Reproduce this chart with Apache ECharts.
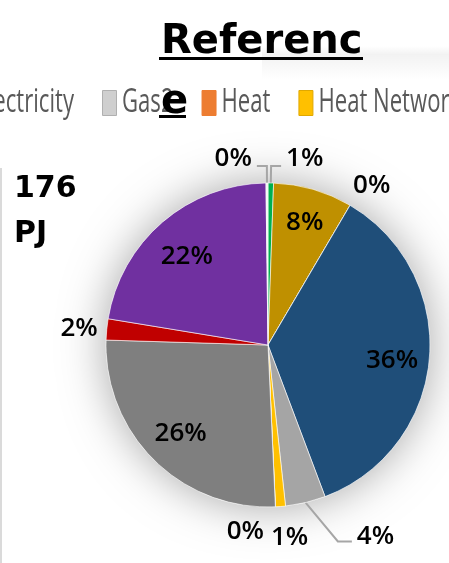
<!DOCTYPE html>
<html><head><meta charset="utf-8">
<script src="https://cdn.jsdelivr.net/npm/echarts@6/dist/echarts.min.js"></script>
<style>html,body{margin:0;padding:0;background:#fff}#c{width:449px;height:563px}</style>
</head><body><div id="c"></div>
<script>
// ---- data ----
const titleText = 'Reference';
const totalText = '176\nPJ';
const categories = ['Biomass', 'Oil', 'Heat', 'Electricity', 'Gas2', 'Heat Network', 'Hydrogen', 'Natural Gas', 'Coal', 'Renewables', 'Other'];
const shares = [0.55, 7.9, 0, 35.8, 4.0, 1.0, 0, 26.2, 2.1, 22.2, 0.2];
const sliceColors = ['#00B050', '#BF9000', '#ED7D31', '#1F4E79', '#A5A5A5', '#FFC000', '#5B9BD5', '#7F7F7F', '#C00000', '#7030A0', '#F4F4F4'];
const legendNames = ['Electricity', 'Gas2', 'Heat', 'Heat Network'];
const legendColors = ['#1F4E79', '#CFCFCF', '#ED7D31', '#FFC000'];
const legendBorders = ['#1F4E79', '#B0B0B0', '#ED7D31', '#E0A800'];

// ---- styling (not data) ----
const CX = 268, CY = 345, R = 162;
const leaderLines = { 'Biomass': [17, 10, 14], 'Other': [17, 10, 14], 'Gas2': [40, 37, 10] }; // length, length2, lift lineHeight
const labelOffsets = { 'Heat': [-5, -15], 'Coal': [2, 0], 'Heat Network': [-15, 25], 'Hydrogen': [-54, 19] };
const insideOffsets = { 'Electricity': [0, 5], 'Renewables': [0, 6], 'Oil': [2, -3] };
const leaderBend = { 'Gas2': 23 };
const labelFont = { fontFamily: 'Open Sans', fontSize: 26, fontWeight: 600, color: '#000' };
const pctText = p => Math.round(p.percent) + '%';

// ---- legend drawn as graphic (condensed text) ----
const LEG = { font: 'Open Sans', size: 33, sx: 0.67, iconW: 15, iconH: 26, top: 90, gap: 28, textGap: 5, endFirst: 74 };
const mctx = document.createElement('canvas').getContext('2d');
mctx.font = LEG.size + 'px "' + LEG.font + '"';
const legendEls = [];
(function () {
  let x = LEG.endFirst - mctx.measureText(legendNames[0]).width * LEG.sx - LEG.textGap - LEG.iconW;
  legendNames.forEach((n, i) => {
    legendEls.push({ type: 'rect', shape: { x: x + 0.5, y: LEG.top + 0.5, width: LEG.iconW - 1, height: LEG.iconH - 1 },
      style: { fill: legendColors[i], stroke: legendBorders[i], lineWidth: 1 }, z: 4 });
    const tx = x + LEG.iconW + LEG.textGap;
    legendEls.push({ type: 'text', x: tx, y: LEG.top + LEG.iconH / 2, scaleX: LEG.sx, z: 4,
      style: { text: n, fontFamily: LEG.font, fontSize: LEG.size, fill: '#595959', align: 'left', verticalAlign: 'middle' } });
    x = tx + mctx.measureText(n).width * LEG.sx + LEG.gap;
  });
})();

function shiftLabel(offsets) {
  return function (p) {
    const off = offsets[categories[p.dataIndex]];
    if (!off) return {};
    const r = p.labelRect;
    return { x: r.x + r.width / 2 + off[0], y: r.y + r.height / 2 + off[1], align: 'center', verticalAlign: 'middle' };
  };
}

const chart = echarts.init(document.getElementById('c'), null, { renderer: 'canvas' });

const mainData = categories.map((n, i) => {
  const ll = leaderLines[n];
  return {
    name: n, value: shares[i],
    itemStyle: { color: sliceColors[i] },
    label: ll ? { show: shares[i] < 5, lineHeight: ll[2], formatter: p => pctText(p) + '\n ' } : { show: shares[i] < 5 },
    labelLine: ll ? { show: true, length: ll[0], length2: ll[1] } : { show: false, length: 6, length2: 0 }
  };
});
const ringData = categories.map((n, i) => ({ name: n, value: shares[i], label: { show: shares[i] >= 5 } }));
const outsideShift = shiftLabel(labelOffsets);

chart.setOption({
  backgroundColor: '#fff',
  animation: false,
  title: [
    { text: titleText, left: 161, top: 13, padding: 0, z: 10,
      textStyle: { fontFamily: 'DejaVu Sans', fontWeight: 'bold', fontSize: 40, color: '#000', width: 210, overflow: 'breakAll', lineHeight: 60 } },
    { text: totalText, left: 14, top: 167, padding: 0,
      textStyle: { fontFamily: 'DejaVu Sans', fontWeight: 'bold', fontSize: 30, color: '#000', lineHeight: 45 } }
  ],
  graphic: legendEls.concat([
    { type: 'rect', shape: { x: 159, y: 57, width: 204, height: 3 }, style: { fill: '#000' }, z: 100 },
    { type: 'rect', shape: { x: 159, y: 115, width: 27, height: 3 }, style: { fill: '#000' }, z: 100 },
    { type: 'rect', shape: { x: 0, y: 168, width: 2, height: 395 }, style: { fill: '#DADADA' }, z: 1 },
    { type: 'rect', shape: { x: 262, y: 46, width: 187, height: 34 }, z: 0, silent: true,
      style: { fill: new echarts.graphic.LinearGradient(0, 0, 0, 1, [
        { offset: 0, color: 'rgba(0,0,0,0.00)' }, { offset: 0.25, color: 'rgba(0,0,0,0.05)' }, { offset: 1, color: 'rgba(0,0,0,0)' }]) } }
  ]),
  series: [
    { type: 'pie', name: 'shadow', center: [CX, CY], radius: R, silent: true, z: 1,
      label: { show: false }, labelLine: { show: false },
      itemStyle: { color: '#fff', shadowBlur: 45, shadowColor: 'rgba(0,0,0,0.35)' },
      data: [{ value: 1, name: '' }] },
    { type: 'pie', name: 'main', center: [CX, CY], radius: R, startAngle: 90, clockwise: true, z: 2,
      avoidLabelOverlap: false, minAngle: 0, minShowLabelAngle: 0, percentPrecision: 2, silent: true,
      itemStyle: { borderColor: '#fff', borderWidth: 0.6 },
      label: Object.assign({ position: 'outside', distanceToLabelLine: 5, formatter: pctText }, labelFont),
      labelLine: { lineStyle: { color: '#A6A6A6', width: 2 } },
      labelLayout: function (p) {
        const bend = leaderBend[categories[p.dataIndex]];
        if (bend && p.labelLinePoints) {
          const pts = p.labelLinePoints.map(q => q.slice());
          pts[1][0] += bend;
          return { labelLinePoints: pts };
        }
        return outsideShift(p);
      },
      data: mainData },
    { type: 'pie', name: 'inner', center: [CX, CY], radius: [R * 0.5, R], startAngle: 90, clockwise: true, z: 3,
      avoidLabelOverlap: false, silent: true, percentPrecision: 2,
      itemStyle: { color: 'rgba(0,0,0,0)' },
      label: Object.assign({ position: 'inside', formatter: pctText }, labelFont),
      labelLine: { show: false },
      labelLayout: shiftLabel(insideOffsets),
      data: ringData }
  ]
});
</script></body></html>
